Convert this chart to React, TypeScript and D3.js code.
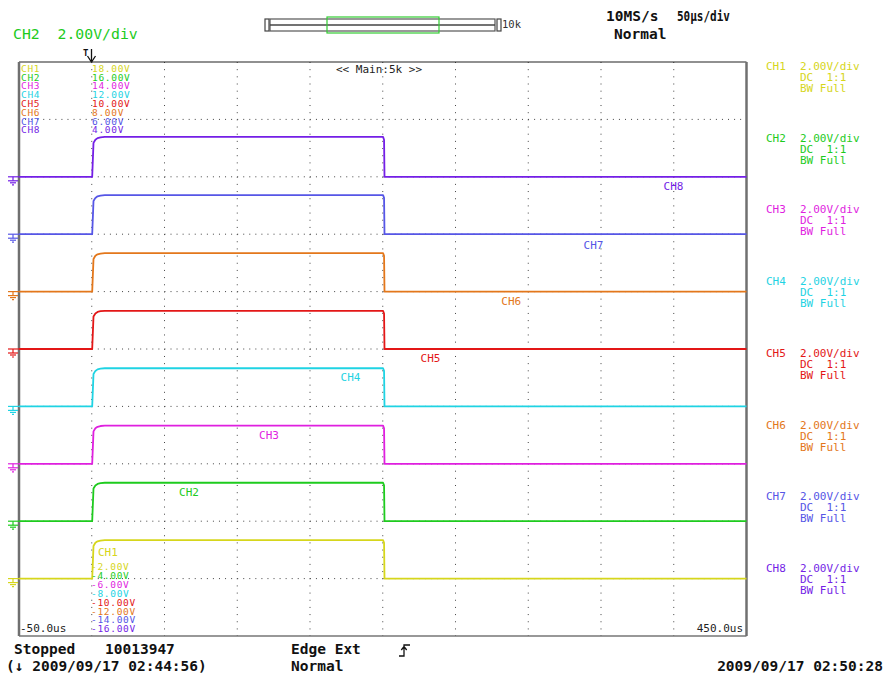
import React from 'react';
import * as d3 from 'd3';

const W = 889;
const H = 677;

// channel setup
const channels = ['CH1', 'CH2', 'CH3', 'CH4', 'CH5', 'CH6', 'CH7', 'CH8'];
const colors = ['#d6d61c', '#1ecb1e', '#df1fdf', '#1fd3e3', '#e31717', '#e3771b', '#5656e6', '#741fe6'];
const baseVolts = [-8, -6, -4, -2, 0, 2, 4, 6];
const highVolts = [-6.66, -4.66, -2.67, -0.67, 1.33, 3.34, 5.36, 7.39];
const topLabels = ['18.00V', '16.00V', '14.00V', '12.00V', '10.00V', '8.00V', '6.00V', '4.00V'];
const bottomLabels = ['-2.00V', '-4.00V', '-6.00V', '-8.00V', '-10.00V', '-12.00V', '-14.00V', '-16.00V'];
const labelTimes = [4.3, 60, 115, 171, 226, 281.5, 338, 393];
const labelVolts = [-7.21, -5.12, -3.14, -1.11, -0.45, 1.53, 3.48, 5.54];

// pulse shape: time (us) and fraction of the step
const pulseTimes = [-50, 0.3, 1.2, 2.5, 4, 6, 9, 200.2, 200.9, 201.2, 450];
const pulseShape = [0, 0, 0.85, 0.93, 0.97, 0.99, 1, 1, 0.93, 0, 0];

const timeDomain = [-50, 450];
const voltDomain = [-10, 10];
const timeTicks = d3.range(-50, 451, 50);
const voltTicks = d3.range(-10, 11, 2);

const mono = 'DejaVu Sans Mono, monospace';

const left = 19, right = 746.5, top = 62, bottom = 636;

const x = d3.scaleLinear().domain(timeDomain).range([left, right]);
const y = d3.scaleLinear().domain(voltDomain).range([bottom, top]);

const App = () => {
  const line = d3.line<number>()
    .x((_, i) => x(pulseTimes[i]));

  return (
    <svg width={W} height={H} style={{ position: 'absolute', left: 0, top: 0, background: '#fff' }}>
      {/* header */}
      <text x={13} y={39} fontFamily={mono} fontSize={14.8} fill="#1ecb1e" xmlSpace="preserve">CH2  2.00V/div</text>
      <text x={606} y={21} fontFamily={mono} fontSize={14.5} fontWeight="bold" fill="#111">10MS/s</text>
      <text x={677} y={21} fontFamily={mono} fontSize={14.5} fontWeight="bold" fill="#111" textLength={53} lengthAdjust="spacingAndGlyphs">50μs/div</text>
      <text x={614} y={39} fontFamily={mono} fontSize={14.5} fontWeight="bold" fill="#111">Normal</text>

      {/* zoom bar */}
      <rect x={265} y={19} width={4} height={12} fill="#fff" stroke="#444" strokeWidth={1.2} />
      <rect x={270} y={19} width={225} height={12} fill="#fff" stroke="#555" strokeWidth={1.2} />
      <line x1={270} x2={495} y1={25} y2={25} stroke="#444" strokeWidth={1.6} />
      <rect x={497} y={19} width={4} height={12} fill="#fff" stroke="#444" strokeWidth={1.2} />
      <rect x={327} y={17} width={112} height={16} fill="none" stroke="#3c3" strokeWidth={1.2} />
      <text x={502} y={28} fontFamily={mono} fontSize={10.5} fill="#333">10k</text>

      {/* trigger marker */}
      <text x={83} y={56} fontFamily={mono} fontSize={9} fontWeight="bold" fill="#111">T</text>
      <line x1={91.5} x2={91.5} y1={49} y2={62} stroke="#111" strokeWidth={1.3} />
      <polyline points="87.5,56 91.5,62 95.5,56" fill="none" stroke="#111" strokeWidth={1.3} />

      {/* grid */}
      {voltTicks.slice(1, -1).map(v => (
        <line key={'h' + v} x1={left} x2={right} y1={y(v)} y2={y(v)}
          stroke="#444" strokeWidth={1} strokeDasharray="1 5.06" />
      ))}
      {timeTicks.slice(1, -1).map(t => (
        <line key={'v' + t} x1={x(t)} x2={x(t)} y1={top} y2={bottom}
          stroke="#444" strokeWidth={1} strokeDasharray="1 6.17" />
      ))}

      {/* frame */}
      <line x1={left} x2={right} y1={top} y2={top} stroke="#222" strokeWidth={1.2} />
      <line x1={left} x2={right} y1={bottom} y2={bottom} stroke="#333" strokeWidth={1.2} />
      <line x1={left} x2={left} y1={top} y2={bottom} stroke="#707070" strokeWidth={2.5} />
      <line x1={right} x2={right} y1={top} y2={bottom} stroke="#707070" strokeWidth={2.5} />

      {/* traces */}
      {channels.map((c, i) => {
        const lo = baseVolts[i];
        const hi = highVolts[i];
        const d = line.y(s => y(lo + (hi - lo) * s))(pulseShape) || '';
        return <path key={c} d={d} fill="none" stroke={colors[i]} strokeWidth={1.8} strokeLinejoin="round" />;
      })}

      {/* ground markers */}
      {channels.map((c, i) => {
        const gy = y(baseVolts[i]);
        return (
          <g key={'g' + c} stroke={colors[i]} strokeWidth={1.2} fill="none">
            <line x1={8} x2={19} y1={gy} y2={gy} />
            <line x1={13} x2={13} y1={gy} y2={gy + 4} />
            <line x1={8} x2={18} y1={gy + 4} y2={gy + 4} />
            <line x1={10} x2={16} y1={gy + 6} y2={gy + 6} />
            <line x1={12} x2={14} y1={gy + 8} y2={gy + 8} />
          </g>
        );
      })}

      {/* trace labels */}
      {channels.map((c, i) => (
        <text key={'l' + c} x={x(labelTimes[i])} y={y(labelVolts[i])} fontFamily={mono} fontSize={11} fill={colors[i]}>{c}</text>
      ))}

      {/* offset readout inside the plot */}
      {channels.map((c, i) => (
        <g key={'t' + c} fontFamily={mono} fontSize={9.5} letterSpacing={0.7} fill={colors[i]}>
          <text x={21} y={71.7 + 8.8 * i}>{c}</text>
          <text x={92} y={71.7 + 8.8 * i}>{topLabels[i]}</text>
          <text x={91} y={570 + 8.9 * i}>{bottomLabels[i]}</text>
        </g>
      ))}

      <text x={379} y={73} textAnchor="middle" fontFamily={mono} fontSize={11} fill="#222">{'<< Main:5k >>'}</text>
      <text x={20} y={632} fontFamily={mono} fontSize={11} fill="#222">-50.0us</text>
      <text x={743} y={632} textAnchor="end" fontFamily={mono} fontSize={11} fill="#222">450.0us</text>

      {/* channel settings panel */}
      {channels.map((c, i) => {
        const ty = 70 + 71.7 * i;
        return (
          <g key={'p' + c} fontFamily={mono} fontSize={11} fill={colors[i]}>
            <text x={766} y={ty}>{c}</text>
            <text x={800} y={ty}>2.00V/div</text>
            <text x={800} y={ty + 11} xmlSpace="preserve">DC  1:1</text>
            <text x={800} y={ty + 22}>BW Full</text>
          </g>
        );
      })}

      {/* status line */}
      <g fontFamily={mono} fontSize={14.5} fontWeight="bold" fill="#111">
        <text x={14} y={654}>Stopped</text>
        <text x={105} y={654}>10013947</text>
        <text x={6} y={671} xmlSpace="preserve">(↓ 2009/09/17 02:44:56)</text>
        <text x={291} y={654}>Edge Ext</text>
        <text x={291} y={671}>Normal</text>
        <text x={883} y={671} textAnchor="end">2009/09/17 02:50:28</text>
      </g>
      <path d="M399,656 L404,656 L404,645 L410,645 M401.3,650 L404,646.5 L406.7,650" fill="none" stroke="#111" strokeWidth={1.3} />
    </svg>
  );
};

export default App;
